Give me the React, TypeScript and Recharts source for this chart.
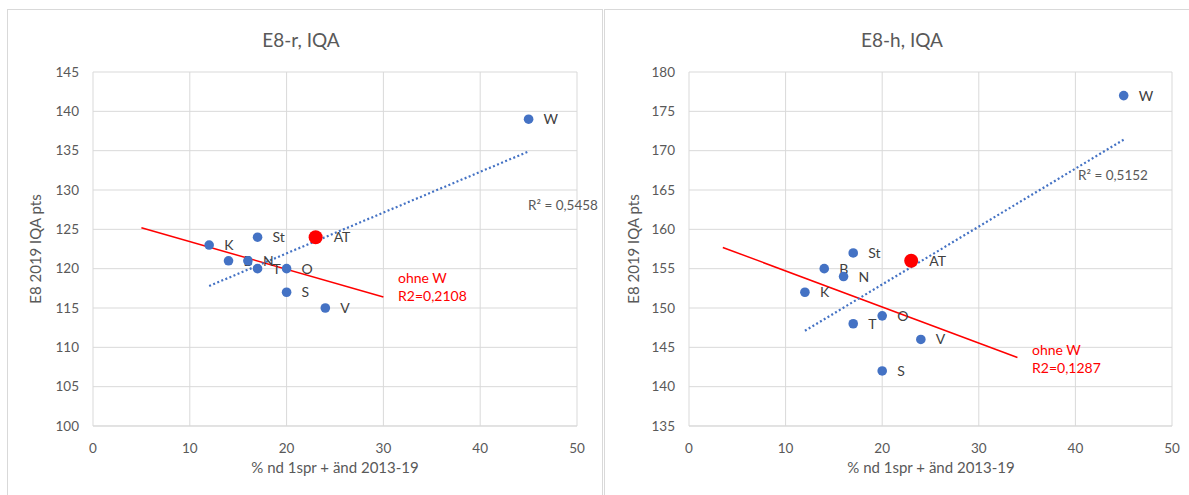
import React from "react";
import { ScatterChart, Scatter, XAxis, YAxis, CartesianGrid, ReferenceLine } from "recharts";

// shared x values (% nd 1spr + änd 2013-19)
const names = ["K", "B", "N", "St", "T", "O", "S", "V", "W"];
const pctChange = [12, 14, 16, 17, 17, 20, 20, 24, 45];
const iqaR = [123, 121, 121, 124, 120, 120, 117, 115, 139];
const iqaH = [152, 155, 154, 157, 148, 149, 142, 146, 177];

const atName = "AT";
const atX = 23;
const atR = 124;
const atH = 156;

const xTicks = [0, 10, 20, 30, 40, 50];
const rTicks = [100, 105, 110, 115, 120, 125, 130, 135, 140, 145];
const hTicks = [135, 140, 145, 150, 155, 160, 165, 170, 175, 180];

// trendline end points
const trendAllR = [{ x: 12, y: 117.8 }, { x: 45, y: 134.9 }];
const ohneWR = [{ x: 5, y: 125.2 }, { x: 30, y: 116.4 }];
const trendAllH = [{ x: 12, y: 147.1 }, { x: 45, y: 171.4 }];
const ohneWH = [{ x: 3.5, y: 157.7 }, { x: 34, y: 143.7 }];

const FONT = "Lato, 'Open Sans', sans-serif";
const GREY = "#595959";
const BLUE = "#4472C4";

const dot = (r: number, fill: string, off: number) => (p: any) => (
  <g>
    <circle cx={p.cx} cy={p.cy} r={r} fill={fill} />
    <text x={p.cx + off} y={p.cy + 5} fontSize={14} fontFamily={FONT} fill="#404040">
      {p.payload.name}
    </text>
  </g>
);

function Txt({ x, y, children, color = GREY, size = 14, center = false }: any) {
  return (
    <div
      style={{
        position: "absolute",
        left: x,
        top: y - 10,
        lineHeight: "20px",
        fontSize: size,
        fontFamily: FONT,
        color,
        whiteSpace: "nowrap",
        transform: center ? "translateX(-50%)" : undefined,
      }}
    >
      {children}
    </div>
  );
}

function Panel(props: any) {
  const { left, width, plotLeft, plotRight, ys, atY, ticks, trendAll, ohneW } = props;
  const points = names.map((n, i) => ({ name: n, x: pctChange[i], y: ys[i] }));
  const at = [{ name: atName, x: atX, y: atY }];
  return (
    <div style={{ position: "absolute", left, top: 0, width, height: 495 }}>
      <ScatterChart
        width={width}
        height={495}
        margin={{ top: 72, right: width - plotRight, bottom: 39, left: 0 }}
      >
        <CartesianGrid stroke="#d9d9d9" />
        <XAxis
          type="number"
          dataKey="x"
          domain={[0, 50]}
          ticks={xTicks}
          interval={0}
          height={30}
          tickLine={false}
          tickSize={0}
          tickMargin={17}
          axisLine={{ stroke: "#d9d9d9" }}
          tick={{ fill: GREY, fontSize: 13.5, fontFamily: FONT }}
        />
        <YAxis
          type="number"
          dataKey="y"
          domain={[ticks[0], ticks[ticks.length - 1]]}
          ticks={ticks}
          interval={0}
          width={plotLeft}
          tickLine={false}
          tickSize={0}
          tickMargin={14}
          axisLine={false}
          tick={{ fill: GREY, fontSize: 13.5, fontFamily: FONT }}
        />
        <ReferenceLine
          segment={ohneW}
          stroke="#FF0000"
          strokeWidth={1.5}
          ifOverflow="visible"
        />
        <Scatter data={points} fill={BLUE} shape={dot(4.8, BLUE, 15)} isAnimationActive={false} />
        <Scatter data={at} fill="#FF0000" shape={dot(7, "#FF0000", 18)} isAnimationActive={false} />
        <ReferenceLine
          segment={trendAll}
          stroke={BLUE}
          strokeWidth={2.2}
          strokeDasharray="2 2.4"
          ifOverflow="visible"
        />
      </ScatterChart>
    </div>
  );
}

export default function App() {
  return (
    <div style={{ position: "absolute", left: 0, top: 0, width: 1189, height: 495, overflow: "hidden", background: "#fff" }}>
      <div style={{ position: "absolute", left: 7, top: 9, width: 594, height: 500, border: "1px solid #d9d9d9" }} />
      <div style={{ position: "absolute", left: 604, top: 9, width: 600, height: 500, border: "1px solid #d9d9d9" }} />

      <Panel left={0} width={602} plotLeft={93} plotRight={577} ys={iqaR} atY={atR} ticks={rTicks} trendAll={trendAllR} ohneW={ohneWR} />
      <Panel left={603} width={586} plotLeft={86} plotRight={569} ys={iqaH} atY={atH} ticks={hTicks} trendAll={trendAllH} ohneW={ohneWH} />

      <Txt x={301} y={40} size={19} center>E8-r, IQA</Txt>
      <Txt x={902} y={40} size={19} center>E8-h, IQA</Txt>

      <Txt x={335} y={467} size={15} center>% nd 1spr + änd 2013-19</Txt>
      <Txt x={931} y={467} size={15} center>% nd 1spr + änd 2013-19</Txt>

      {[35, 633].map((cx) => (
        <div
          key={cx}
          style={{
            position: "absolute",
            left: cx,
            top: 249,
            transform: "translate(-50%, -50%) rotate(-90deg)",
            fontSize: 15,
            fontFamily: FONT,
            color: GREY,
            whiteSpace: "nowrap",
          }}
        >
          E8 2019 IQA pts
        </div>
      ))}

      <Txt x={528} y={205} size={13.5}>R² = 0,5458</Txt>
      <Txt x={398} y={278} color="#FF0000">ohne W</Txt>
      <Txt x={398} y={296} color="#FF0000">R2=0,2108</Txt>

      <Txt x={1078} y={175} size={13.5}>R² = 0,5152</Txt>
      <Txt x={1032} y={350} color="#FF0000">ohne W</Txt>
      <Txt x={1032} y={368} color="#FF0000">R2=0,1287</Txt>
    </div>
  );
}
